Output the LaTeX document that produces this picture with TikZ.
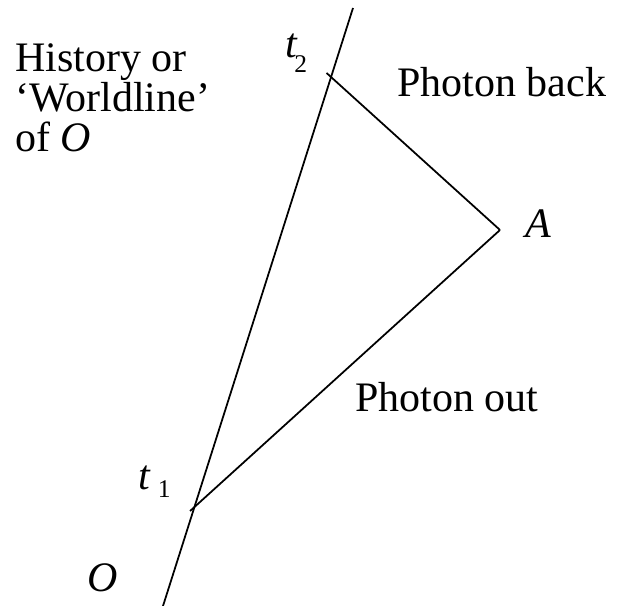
\documentclass[tikz,border=0pt]{standalone}
\usepackage{fontspec}
\setmainfont{Liberation Serif}
\usepackage{tikz}

\newcommand{\lowidx}[2]{\raisebox{#1}{\fontsize{14.5}{15}\selectfont #2}}

\begin{document}
\begin{tikzpicture}[every node/.style={font=\fontsize{23.9}{23}\selectfont, inner sep=0pt},
	photon/.style={line width=1pt, shorten >=-0.12cm}]
	\useasboundingbox (0,0) rectangle (12.34,12.12);
	% worldline of O
	\coordinate (w0) at (3.26,0);
	\coordinate (w1) at (7.06,11.96);
	\coordinate (t1) at (3.89,1.98);
	\coordinate (t2) at (6.62,10.58);
	\coordinate (A) at (10.0,7.52);
	\draw[line width=1pt] (w0) -- (w1);
	% photon out, then back
	\draw[photon] (A) -- (t1);
	\draw[photon] (A) -- (t2);
	% event labels
	\node[anchor=base west] (lt1) at (2.76,2.32) {\textit{t}\kern4pt\lowidx{-4pt}{1}};
	\node[anchor=base west] (lt2) at (5.70,10.96) {\textit{t}\kern-2pt\lowidx{-8pt}{2}};
	\node[anchor=base west] (lA) at (10.50,7.36) {\textit{A}};
	\node[anchor=base west] (lO) at (1.74,0.28) {\textit{O}};
	% captions
	\node[anchor=base west] (back) at (7.94,10.18) {Photon back};
	\node[anchor=base west] (out) at (7.10,3.88) {Photon out};
	\node[anchor=north west, align=left] (hist) at (0.30,11.26) {History or\\`Worldline'\\of \textit{O}};
\end{tikzpicture}
\end{document}
